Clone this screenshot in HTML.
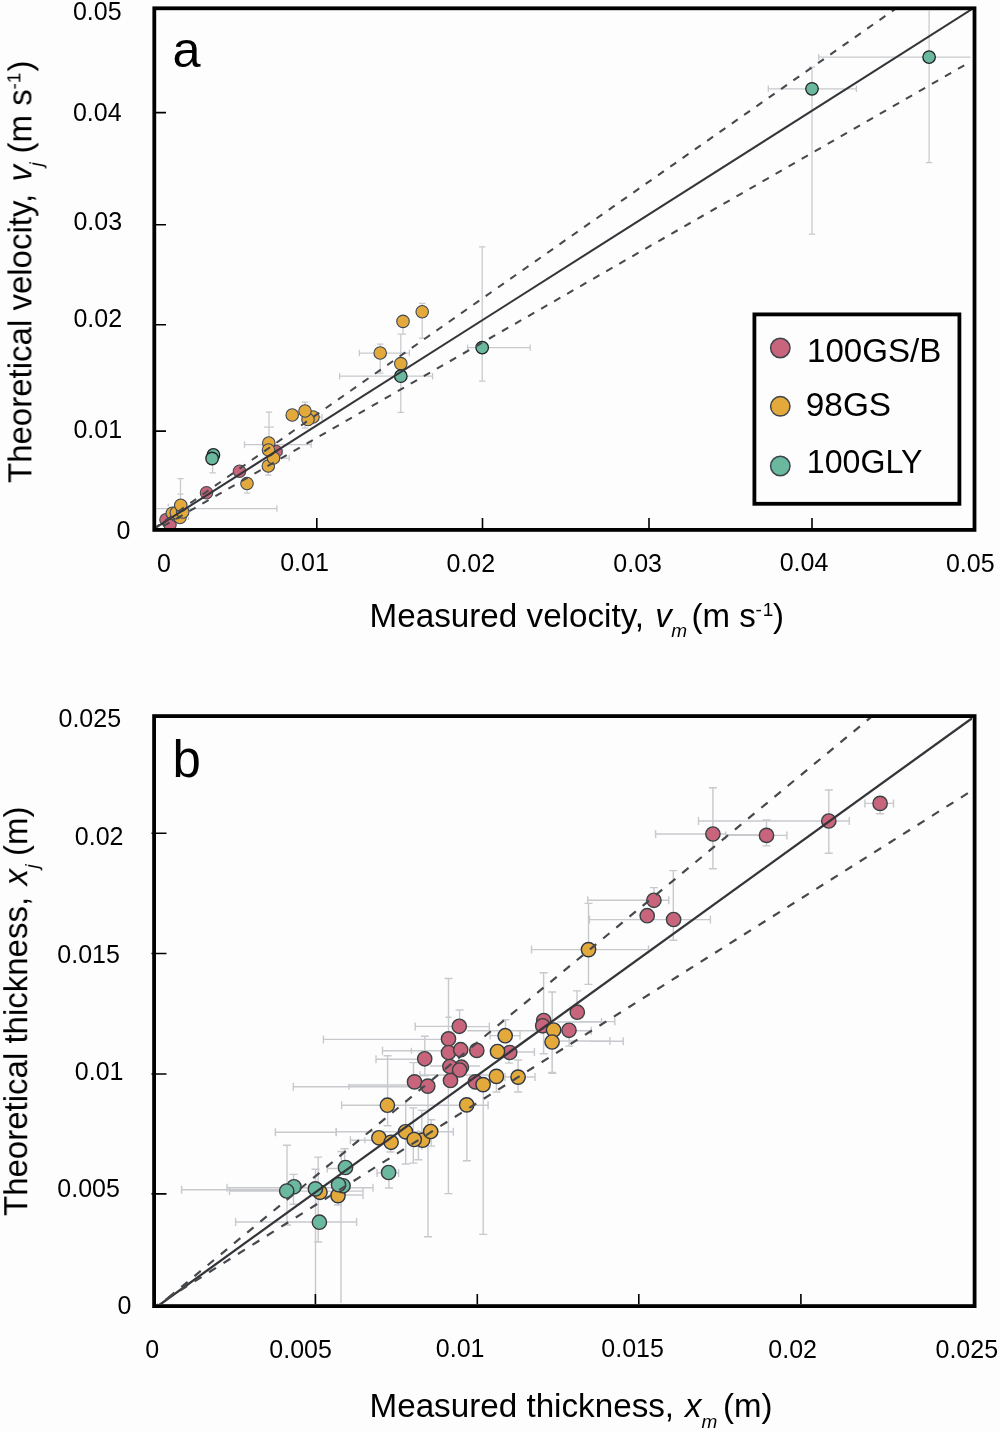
<!DOCTYPE html><html><head><meta charset="utf-8"><style>html,body{margin:0;padding:0;background:#fdfdfd}svg{display:block}text{will-change:transform}</style></head><body><svg width="1000" height="1432" viewBox="0 0 1000 1432" font-family="Liberation Sans, sans-serif"><rect width="1000" height="1432" fill="#fdfdfd"/><defs><clipPath id="ca"><rect x="156" y="10" width="816" height="518"/></clipPath><clipPath id="cb"><rect x="156" y="718" width="816" height="586"/></clipPath></defs><g clip-path="url(#ca)"><path d="M768.3 88.8H856.4M768.3 85.6V92.0M856.4 85.6V92.0M812 67.2V234M808.8 67.2H815.2M808.8 234H815.2M818.7 57.1H970.4M818.7 53.9V60.300000000000004M929.1 10.8V162.7M925.9 162.7H932.3000000000001M467.6 347.6H530.2M467.6 344.40000000000003V350.8M530.2 344.40000000000003V350.8M482.2 246.8V381.2M479.0 246.8H485.4M479.0 381.2H485.4M339.6 376.2H432.6M339.6 373.0V379.4M432.6 373.0V379.4M400.8 334.2V412.4M397.6 334.2H404.0M397.6 412.4H404.0M359.4 353H409.4M359.4 349.8V356.2M409.4 349.8V356.2M380.2 344.2V373M377.0 344.2H383.4M377.0 373H383.4M403 321.4V334.2M399.8 334.2H406.2M422.2 303.4V338M419.0 303.4H425.4M419.0 338H425.4M269 412.2V466M265.8 412.2H272.2M264 427H274M244.5 444.5H311.2M244.5 441.3V447.7M311.2 441.3V447.7M305 402V428M301.8 402H308.2M301.8 428H308.2M313 417H322M322 413.8V420.2M273.5 458H289.2M289.2 454.8V461.2M282.5 449V455M268.3 466V475M265.1 475H271.5M212.6 455V472.9M209.4 472.9H215.79999999999998M247 483.5V493.2M243.8 493.2H250.2M156.5 508.5H276.9M276.9 505.3V511.7M180.5 478.5V505M177.3 478.5H183.7M177.5 494H183.5M168.25 503.5V506.5M188.5 517V520" stroke="#c8c9cd" stroke-width="1.25" fill="none"/><g fill="#C8647B" stroke="#404a4a" stroke-width="1.1"><circle cx="166" cy="519.75" r="6.25"/><circle cx="170" cy="524.5" r="6.25"/><circle cx="206.5" cy="492.8" r="6.25"/><circle cx="239.5" cy="471.3" r="6.25"/><circle cx="276" cy="451.5" r="6.25"/></g><g fill="#E3AA3B" stroke="#3c4658" stroke-width="1.1"><circle cx="177" cy="516" r="6.25"/><circle cx="180" cy="517.5" r="6.25"/><circle cx="172.3" cy="513.25" r="6.25"/><circle cx="176.3" cy="512.75" r="6.25"/><circle cx="182.7" cy="512" r="6.25"/><circle cx="180.75" cy="505.2" r="6.25"/><circle cx="247" cy="483.5" r="6.25"/><circle cx="268.3" cy="466" r="6.25"/><circle cx="273.5" cy="458" r="6.25"/><circle cx="268.8" cy="443" r="6.25"/><circle cx="268.5" cy="450" r="6.25"/><circle cx="313" cy="417" r="6.25"/><circle cx="308" cy="419.5" r="6.25"/><circle cx="292.2" cy="415" r="6.25"/><circle cx="305" cy="411" r="6.25"/><circle cx="380.2" cy="353" r="6.25"/><circle cx="400.8" cy="363.6" r="6.25"/><circle cx="403" cy="321.4" r="6.25"/><circle cx="422.2" cy="311.8" r="6.25"/></g><g fill="#6AB99F" stroke="#1e2124" stroke-width="1.3"><circle cx="213.4" cy="454.9" r="6.25"/><circle cx="212.1" cy="458.5" r="6.25"/><circle cx="400.8" cy="376.2" r="6.25"/><circle cx="482.2" cy="347.6" r="6.25"/><circle cx="812" cy="88.8" r="6.25"/><circle cx="929.1" cy="57.1" r="6.25"/></g><path d="M150 531.3L975 7.2" stroke="#333538" stroke-width="2.05" fill="none"/><path d="M156 527.2L897.4 7.5" stroke="#45484c" stroke-width="2.05" fill="none" stroke-dasharray="7.2 7.83" stroke-dashoffset="3.21"/><path d="M156 530.3L964.5 65.2" stroke="#45484c" stroke-width="2.05" fill="none" stroke-dasharray="7.2 7.83" stroke-dashoffset="6.65"/></g><rect x="154.3" y="8.3" width="820.2" height="521.6" fill="none" stroke="#000" stroke-width="3.8"/><path d="M156 112.6H166M156 224.8H166M156 324.8H166M156 431.1H166M316.8 528V518M482.5 528V518M649 528V518M812 528V518" stroke="#000" stroke-width="1.6"/><rect x="754.4" y="314.4" width="205" height="189.4" fill="#fdfdfd" stroke="#000" stroke-width="3.8"/><g stroke="#3c444c" stroke-width="1.5"><circle cx="780.3" cy="348" r="9.7" fill="#C8647B"/><circle cx="780.3" cy="406.3" r="9.7" fill="#E3AA3B"/><circle cx="780.3" cy="466" r="9.7" fill="#6AB99F"/></g><g font-size="34" fill="#000"><text x="807.00" y="361.50" textLength="134.40" lengthAdjust="spacingAndGlyphs">100GS/B</text><text x="805.80" y="415.80" textLength="85.32" lengthAdjust="spacingAndGlyphs">98GS</text><text x="806.80" y="473.00" textLength="115.61" lengthAdjust="spacingAndGlyphs">100GLY</text></g><g font-size="25" fill="#000"><text x="72.90" y="19.90">0.05</text><text x="72.90" y="121.20">0.04</text><text x="73.40" y="230.20">0.03</text><text x="73.40" y="327.00">0.02</text><text x="73.40" y="438.20">0.01</text><text x="116.40" y="539.40">0</text><text x="156.90" y="571.90">0</text><text x="280.20" y="571.00">0.01</text><text x="446.50" y="571.50">0.02</text><text x="613.30" y="571.50">0.03</text><text x="779.70" y="570.90">0.04</text><text x="945.90" y="571.50">0.05</text><text x="58.50" y="726.90">0.025</text><text x="74.80" y="845.20">0.02</text><text x="57.30" y="962.90">0.015</text><text x="74.80" y="1079.50">0.01</text><text x="57.30" y="1196.90">0.005</text><text x="117.50" y="1313.90">0</text><text x="145.30" y="1357.90">0</text><text x="269.30" y="1357.90">0.005</text><text x="435.80" y="1357.20">0.01</text><text x="601.30" y="1357.20">0.015</text><text x="768.30" y="1357.90">0.02</text><text x="935.50" y="1357.90">0.025</text></g><text x="172.4" y="67.4" font-size="50.4">a</text><g font-size="33" fill="#000"><text x="369.5" y="627" textLength="274.6" lengthAdjust="spacingAndGlyphs">Measured velocity,</text><text x="655.2" y="626.5" font-style="italic">v</text><text x="671.2" y="637.3" font-size="19" font-style="italic">m</text><text x="691.5" y="627">(m s</text><text x="755.5" y="616" font-size="19">-</text><text x="762.8" y="616" font-size="19">1</text><text x="773" y="627">)</text></g><g font-size="33" fill="#000" transform="translate(31.4 0) rotate(-90)"><text x="-483" y="0">Theoretical velocity,</text><text x="-181.5" y="0" font-style="italic">v</text><text x="-166.5" y="11" font-size="19" font-style="italic">j</text><text x="-153.5" y="0">(m s</text><text x="-89.5" y="-11" font-size="19">-1</text><text x="-71.5" y="0">)</text></g><g clip-path="url(#cb)"><path d="M864.9 803.4H893.5M864.9 799.4V807.4M893.5 799.4V807.4M880.1 803.4V813.7M876.1 813.7H884.1M698.5 821H849.3M698.5 817V825M849.3 817V825M828.8 790V853.2M824.8 790H832.8M824.8 853.2H832.8M655.6 834H725.8M655.6 830V838M712.9 787.7V868.8M708.9 787.7H716.9M708.9 868.8H716.9M725.8 835.4H786.9M725.8 831.4V839.4M786.9 831.4V839.4M726 834.8H760M766.5 819.9V845.9M762.5 819.9H770.5M762.5 845.9H770.5M673.3 870.6V940.3M669.3 870.6H677.3M669.3 940.3H677.3M589.5 919.6H710.4M589.5 915.6V923.6M710.4 915.6V923.6M587.7 900.3H668.8M587.7 896.3V904.3M668.8 896.3V904.3M653.9 887.6V900M649.9 887.6H657.9M531.5 949.6H648.5M531.5 945.6V953.6M648.5 945.6V953.6M588.5 903.4V984.4M584.5 903.4H592.5M584.5 984.4H592.5M543.6 972.7V1053.8M539.6 972.7H547.6M539.6 1053.8H547.6M552.2 992V1073.3M548.2 992H556.2M548.2 1073.3H556.2M577 990.9V1012.2M573 990.9H581M557.3 1022H601.5M601.5 1018V1026M580 1021.6H614.8M614.8 1017.6V1025.6M560 1030.8H591.3M591.3 1026.8V1034.8M560 1041H610M610 1037V1045M590 1041.2H623.2M623.2 1037.2V1045.2M467.2 1030.8H536.9M569.2 1030V1046.1M565.2 1046.1H573.2M505.5 1019.8V1041M501.5 1019.8H509.5M490 1035.6H520M490 1031.6V1039.6M520 1031.6V1039.6M500 1052H534.4M534.4 1048V1056M508.9 1052.5V1063.1M504.9 1063.1H512.9M496.4 1076.4V1092M492.4 1092H500.4M518.1 1060V1092M514.1 1060H522.1M514.1 1092H522.1M505 1077H535M505 1073V1081M535 1073V1081M459.6 1010V1026.3M455.6 1010H463.6M459.3 1026.6H489.3M489.3 1022.5999999999999V1030.6M448.5 978.5V1040M444.5 978.5H452.5M445.5 1017.2H451.5M415.2 1026.4H459M415.2 1022.4000000000001V1030.4M323.4 1039.4H448.5M323.4 1035.4V1043.4M382.5 1050.7H448.5M382.5 1046.7V1054.7M411.4 1047.7V1053.7M376 1059.2H424.7M376 1055.2V1063.2M424.8 1036.2V1075.7M420.8 1036.2H428.8M420.8 1075.7H428.8M387.6 1055.8V1125.7M383.6 1055.8H391.6M383.6 1125.7H391.6M293.3 1086.7H427.8M293.3 1082.7V1090.7M348.9 1083.7V1089.7M349 1085H414.5M413.5 1062.6V1081.9M409.5 1062.6H417.5M430 1066H480M420 1075H500M420 1071V1079M500 1071V1079M428 1086.1V1236.8M424 1236.8H432M448.4 1080.5V1193.6M444.4 1193.6H452.4M466.9 1104.9V1160.7M462.9 1160.7H470.9M483.2 1084.6V1234.4M479.2 1234.4H487.2M552.1 1042V1072.4M548.1 1072.4H556.1M341.6 1105.3H488.1M341.6 1101.3V1109.3M488.1 1101.3V1109.3M336 1131.7H453.3M336 1127.7V1135.7M453.3 1127.7V1135.7M350.4 1140.2H378.9M350.4 1136.2V1144.2M364.9 1137.2V1143.2M405.7 1100.2V1164M401.7 1164H409.7M413.3 1107.9V1163.1M409.3 1107.9H417.3M409.3 1163.1H417.3M418.4 1130V1159.7M414.4 1159.7H422.4M421.8 1110.4V1150M417.8 1110.4H425.8M431.2 1119.8V1146.1M427.2 1119.8H435.2M427.2 1146.1H435.2M390.4 1142.3V1152M386.4 1152H394.4M275.4 1132.2H336.3M275.4 1128.2V1136.2M336.3 1128.2V1136.2M181.6 1189.7H286.7M181.6 1185.7V1193.7M227 1187.7H373M227 1183.7V1191.7M373 1183.7V1191.7M229.5 1191.1H363M229.5 1187.1V1195.1M363 1187.1V1195.1M338 1195H363M363 1191V1199M235.6 1222H356.6M235.6 1218V1226M356.6 1218V1226M327.3 1168.5H345.5M327.3 1164.5V1172.5M377 1173H398.6M377 1169V1177M398.6 1169V1177M287 1145.2V1225M283 1145.2H291M283 1225H291M293.5 1174.4V1204.2M289.5 1174.4H297.5M289.5 1204.2H297.5M318.2 1157.1V1242M314.2 1157.1H322.2M314.2 1242H322.2M315.5 1169.3V1303M311.5 1169.3H319.5M341 1186V1303M338 1195.6V1205M334 1205H342M341.3 1151.5V1167M337.3 1151.5H345.3M344.6 1148.7V1167.5M340.6 1148.7H348.6M389 1166V1188M385 1188H393" stroke="#c8c9cd" stroke-width="1.4" fill="none"/><g fill="#C8647B" stroke="#394242" stroke-width="1.4"><circle cx="880.1" cy="803.4" r="7.15"/><circle cx="828.8" cy="821" r="7.15"/><circle cx="712.9" cy="834" r="7.15"/><circle cx="766.5" cy="835.4" r="7.15"/><circle cx="653.9" cy="900.3" r="7.15"/><circle cx="647.2" cy="915.7" r="7.15"/><circle cx="673.6" cy="919.5" r="7.15"/><circle cx="577.3" cy="1012.2" r="7.15"/><circle cx="543.7" cy="1020.5" r="7.15"/><circle cx="542.7" cy="1025.8" r="7.15"/><circle cx="569" cy="1030.3" r="7.15"/><circle cx="459.3" cy="1026.3" r="7.15"/><circle cx="448.5" cy="1038.9" r="7.15"/><circle cx="448.5" cy="1052.5" r="7.15"/><circle cx="460.7" cy="1049.7" r="7.15"/><circle cx="476.8" cy="1050.4" r="7.15"/><circle cx="424.7" cy="1058.8" r="7.15"/><circle cx="461.4" cy="1067.2" r="7.15"/><circle cx="449.9" cy="1066.5" r="7.15"/><circle cx="459.6" cy="1070" r="7.15"/><circle cx="450.5" cy="1080.5" r="7.15"/><circle cx="414.5" cy="1081.9" r="7.15"/><circle cx="427.8" cy="1086.1" r="7.15"/><circle cx="475.4" cy="1081.9" r="7.15"/><circle cx="509.7" cy="1052.5" r="7.15"/></g><g fill="#E3AA3B" stroke="#2e3748" stroke-width="1.4"><circle cx="588.5" cy="949.6" r="7.15"/><circle cx="553.6" cy="1030" r="7.15"/><circle cx="552.1" cy="1042" r="7.15"/><circle cx="505.2" cy="1035.7" r="7.15"/><circle cx="497.5" cy="1051.5" r="7.15"/><circle cx="496.4" cy="1076.4" r="7.15"/><circle cx="518.1" cy="1077.1" r="7.15"/><circle cx="483.1" cy="1084.6" r="7.15"/><circle cx="466.7" cy="1104.9" r="7.15"/><circle cx="387.4" cy="1105.2" r="7.15"/><circle cx="378.9" cy="1137.8" r="7.15"/><circle cx="391.1" cy="1142.3" r="7.15"/><circle cx="405.5" cy="1131.8" r="7.15"/><circle cx="422.6" cy="1140.2" r="7.15"/><circle cx="414.2" cy="1139.5" r="7.15"/><circle cx="430.7" cy="1131.5" r="7.15"/><circle cx="320" cy="1192.3" r="7.15"/><circle cx="338" cy="1195.6" r="7.15"/></g><g fill="#6AB99F" stroke="#3a373d" stroke-width="1.4"><circle cx="388.6" cy="1172.5" r="7.15"/><circle cx="345.5" cy="1167.5" r="7.15"/><circle cx="294" cy="1186.8" r="7.15"/><circle cx="286.7" cy="1191" r="7.15"/><circle cx="343.1" cy="1185.8" r="7.15"/><circle cx="338.5" cy="1184.7" r="7.15"/><circle cx="315.4" cy="1188.9" r="7.15"/><circle cx="319.4" cy="1222.2" r="7.15"/></g><path d="M156 1307.4L975 716.1" stroke="#333538" stroke-width="2.3" fill="none"/><path d="M156 1307.9L873 715.5" stroke="#45484c" stroke-width="2.2" fill="none" stroke-dasharray="8.2 8.9" stroke-dashoffset="1.4"/><path d="M156 1305.7L968 793.1" stroke="#45484c" stroke-width="2.2" fill="none" stroke-dasharray="8.2 8.9" stroke-dashoffset="5.7"/></g><rect x="154.1" y="716.1" width="820.5" height="590" fill="none" stroke="#000" stroke-width="3.8"/><path d="M151.5 833.3H166.5M151.5 953.5H166.5M151.5 1074H166.5M151.5 1193.9H166.5M315.4 1304V1294M477.3 1304V1294M638.8 1304V1294M800.9 1304V1294" stroke="#000" stroke-width="1.6"/><text x="172.6" y="776.6" font-size="51">b</text><g font-size="33" fill="#000"><text x="369.5" y="1417.4" textLength="304.6" lengthAdjust="spacingAndGlyphs">Measured thickness,</text><text x="685" y="1417.4" font-style="italic">x</text><text x="701.4" y="1428.4" font-size="19" font-style="italic">m</text><text x="723" y="1417.4">(m)</text></g><g font-size="33" fill="#000" transform="translate(27.2 0) rotate(-90)"><text x="-1216" y="0">Theoretical thickness,</text><text x="-885.4" y="0" font-style="italic">x</text><text x="-868.5" y="11" font-size="19" font-style="italic">j</text><text x="-856" y="0">(m)</text></g></svg></body></html>
